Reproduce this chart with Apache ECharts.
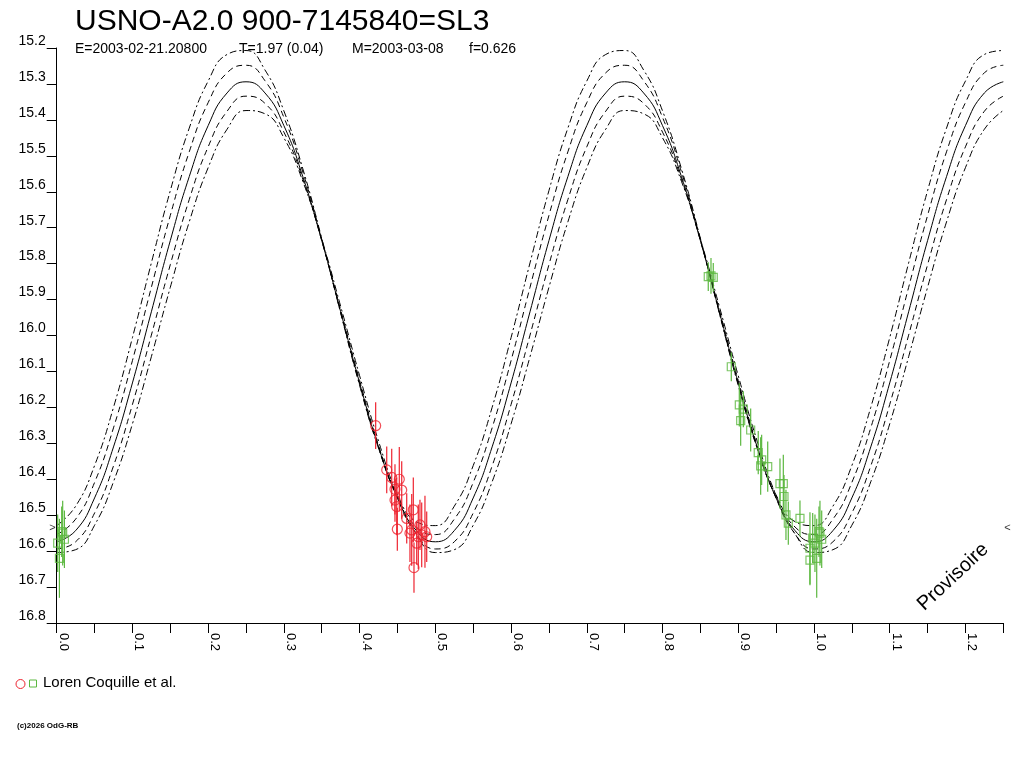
<!DOCTYPE html>
<html>
<head>
<meta charset="utf-8">
<script src="https://cdn.jsdelivr.net/npm/echarts@6/dist/echarts.min.js"></script>
<style>
html,body{margin:0;padding:0;background:#fff;}
#chart{width:1024px;height:768px;}
</style>
</head>
<body>
<div id="chart"></div>
<script>
// ---- data ----
const titleText = 'USNO-A2.0 900-7145840=SL3';
const infoTexts = ['E=2003-02-21.20800', 'T=1.97 (0.04)', 'M=2003-03-08', 'f=0.626'];
const legendText = 'Loren Coquille et al.';
const copyrightText = '(c)2026 OdG-RB';
const stampText = 'Provisoire';

const phase = [0,0.025,0.05,0.075,0.1,0.125,0.15,0.175,0.2,0.225,0.25,0.275,0.3,0.325,0.35,0.375,0.4,0.425,0.45,0.475,
  0.5,0.525,0.55,0.575,0.6,0.625,0.65,0.675,0.7,0.725,0.75,0.775,0.8,0.825,0.85,0.875,0.9,0.925,0.95,0.975,
  1.0,1.025,1.05,1.075,1.1,1.125,1.15,1.175,1.2,1.225,1.25];

// fitted curve (solid)
const curveMid = [16.574,16.543,16.452,16.310,16.132,15.934,15.736,15.558,15.416,15.325,15.294,15.325,15.416,15.558,15.736,15.934,16.132,16.310,16.452,16.543,
  16.574,16.543,16.452,16.310,16.132,15.934,15.736,15.558,15.416,15.325,15.294,15.325,15.416,15.558,15.736,15.934,16.132,16.310,16.452,16.543,
  16.574,16.543,16.452,16.310,16.132,15.934,15.736,15.558,15.416,15.325,15.294];
// inner envelope (dashed)
const curveUp1 = [16.554,16.511,16.409,16.257,16.070,15.866,15.666,15.489,15.352,15.269,15.248,15.291,15.393,15.545,15.733,15.936,16.136,16.313,16.450,16.533,
  16.554,16.511,16.409,16.257,16.070,15.866,15.666,15.489,15.352,15.269,15.248,15.291,15.393,15.545,15.733,15.936,16.136,16.313,16.450,16.533,
  16.554,16.511,16.409,16.257,16.070,15.866,15.666,15.489,15.352,15.269,15.248];
const curveLow1 = [16.594,16.574,16.494,16.363,16.192,15.999,15.803,15.622,15.475,15.376,15.334,15.354,15.434,15.565,15.736,15.929,16.125,16.306,16.453,16.552,
  16.594,16.574,16.494,16.363,16.192,15.999,15.803,15.622,15.475,15.376,15.334,15.354,15.434,15.565,15.736,15.929,16.125,16.306,16.453,16.552,
  16.594,16.574,16.494,16.363,16.192,15.999,15.803,15.622,15.475,15.376,15.334];
// outer envelope (dash-dot)
const curveUp2 = [16.529,16.475,16.362,16.200,16.006,15.798,15.597,15.423,15.292,15.218,15.207,15.261,15.375,15.536,15.730,15.938,16.139,16.313,16.444,16.518,
  16.529,16.475,16.362,16.200,16.006,15.798,15.597,15.423,15.292,15.218,15.207,15.261,15.375,15.536,15.730,15.938,16.139,16.313,16.444,16.518,
  16.529,16.475,16.362,16.200,16.006,15.798,15.597,15.423,15.292,15.218,15.207];
const curveLow2 = [16.604,16.596,16.528,16.407,16.246,16.059,15.866,15.684,15.533,15.426,15.374,15.383,15.450,15.571,15.732,15.919,16.112,16.294,16.445,16.552,
  16.604,16.596,16.528,16.407,16.246,16.059,15.866,15.684,15.533,15.426,15.374,15.383,15.450,15.571,15.732,15.919,16.112,16.294,16.445,16.552,
  16.604,16.596,16.528,16.407,16.246,16.059,15.866,15.684,15.533,15.426,15.374];

// observations, session 1 (red circles)
const redPhase = [0.4212,0.4358,0.4424,0.4524,0.4467,0.4556,0.4467,0.4490,0.4709,0.4622,0.4498,0.4688,0.4797,0.4775,0.4863,0.4886,0.4820,0.4754,0.4718,0.4665];
const redMag   = [16.251,16.374,16.395,16.400,16.428,16.430,16.458,16.476,16.485,16.509,16.539,16.541,16.527,16.560,16.546,16.560,16.555,16.578,16.646,16.550];
const redErr   = [0.065,0.065,0.08,0.09,0.07,0.08,0.06,0.08,0.09,0.07,0.06,0.10,0.07,0.09,0.10,0.07,0.09,0.06,0.07,0.08];

// observations, session 2 (green squares)
const greenPhase = [0.8604,0.8640,0.8670,0.8908,0.9014,0.9067,0.9032,0.9164,0.9264,0.9309,0.9296,0.9389,0.9551,0.9595,0.9604,0.9630,0.9661,0.9815,0.9983,1.0079,0.9947,1.0013,0.9947,1.0036,1.0102,1.0066,
  0.0013,0.0036,0.0066,0.0079,0.0102];
const greenMag   = [15.836,15.834,15.838,16.087,16.193,16.205,16.237,16.263,16.326,16.346,16.363,16.365,16.412,16.412,16.448,16.499,16.522,16.509,16.564,16.550,16.592,16.578,16.625,16.620,16.567,16.546,
  16.578,16.620,16.546,16.550,16.567];
const greenErr   = [0.04,0.05,0.04,0.04,0.06,0.05,0.07,0.06,0.06,0.07,0.08,0.07,0.07,0.08,0.06,0.07,0.06,0.05,0.07,0.09,0.10,0.08,0.07,0.11,0.08,0.07,
  0.08,0.11,0.07,0.09,0.08];

// mean-level markers (">" on left, "<" on right)
const markerPhase = [0, 1.25];
const markerMag = [16.535, 16.535];
const markerText = ['>', '<'];

// ---- build chart ----
const FONT = '"Liberation Sans", Arial, Helvetica, sans-serif';
const RED = '#ee2430';
const GREEN = '#5cb840';

function pairs(xs, ys) { return xs.map((x, i) => [x, ys[i]]); }
function triples(xs, ys, es) { return xs.map((x, i) => [x, ys[i], es[i]]); }

function lineSeries(vals, type) {
  return {
    type: 'line', data: pairs(phase, vals), smooth: true, symbol: 'none',
    lineStyle: { color: '#000', width: 1, type: type }, silent: true, z: 2
  };
}
function errSeries(data, color) {
  return {
    type: 'custom', data: data, z: 3, silent: true,
    renderItem: function (params, api) {
      const x = api.value(0), y = api.value(1), e = api.value(2);
      const p1 = api.coord([x, y - e]), p2 = api.coord([x, y + e]);
      return { type: 'line', shape: { x1: p1[0], y1: p1[1], x2: p2[0], y2: p2[1] },
               style: { stroke: color, lineWidth: 1.2 } };
    },
    clip: true
  };
}

const chart = echarts.init(document.getElementById('chart'), null, { renderer: 'canvas' });
chart.setOption({
  backgroundColor: '#fff',
  animation: false,
  grid: { left: 56.7, right: 20.7, top: 48, bottom: 145, containLabel: false },
  xAxis: {
    type: 'value', min: 0, max: 1.25, interval: 0.05,
    axisLine: { show: true, lineStyle: { color: '#000', width: 1 } },
    axisTick: { show: true, length: 10, lineStyle: { color: '#000' } },
    splitLine: { show: false },
    axisLabel: {
      rotate: -90, margin: 10, color: '#000', fontSize: 13, fontFamily: FONT,
      verticalAlign: 'bottom',
      formatter: function (v) { return (Math.round(v * 100) % 10 === 0) ? v.toFixed(1) : ''; }
    }
  },
  yAxis: {
    type: 'value', inverse: true, min: 15.2, max: 16.8, interval: 0.1,
    axisLine: { show: true, lineStyle: { color: '#000', width: 1 } },
    axisTick: { show: true, length: 10, lineStyle: { color: '#000' } },
    splitLine: { show: false },
    axisLabel: {
      margin: 11, color: '#000', fontSize: 14, fontFamily: FONT, verticalAlign: 'bottom',
      formatter: function (v) { return v.toFixed(1); }
    }
  },
  series: [
    lineSeries(curveUp2, [7, 3, 2, 3]),
    lineSeries(curveUp1, [6, 4]),
    lineSeries(curveMid, 'solid'),
    lineSeries(curveLow1, [6, 4]),
    lineSeries(curveLow2, [7, 3, 2, 3]),
    errSeries(triples(redPhase, redMag, redErr), RED),
    errSeries(triples(greenPhase, greenMag, greenErr), GREEN),
    {
      type: 'scatter', data: pairs(redPhase, redMag), symbol: 'circle', symbolSize: 10, z: 4,
      itemStyle: { color: 'rgba(0,0,0,0)', borderColor: RED, borderWidth: 1.2 }, clip: true
    },
    {
      type: 'scatter', data: pairs(greenPhase, greenMag), symbol: 'rect', symbolSize: 8, z: 4,
      itemStyle: { color: 'rgba(0,0,0,0)', borderColor: GREEN, borderWidth: 1.2 }, clip: true
    },
    {
      type: 'scatter', symbolSize: 0.1, z: 5, clip: false, silent: true,
      itemStyle: { color: 'rgba(0,0,0,0)' },
      data: markerPhase.map((p, i) => ({
        value: [p, markerMag[i]],
        label: { show: true, formatter: markerText[i], position: i === 0 ? 'left' : 'right',
                 distance: 1, fontSize: 11, color: '#000', fontFamily: FONT }
      }))
    }
  ],
  graphic: [
    { type: 'text', x: 75, y: 21.5, style: { text: titleText, font: '30px ' + FONT, fill: '#000', verticalAlign: 'middle' } },
    { type: 'text', x: 75, y: 49, style: { text: infoTexts[0], font: '14px ' + FONT, fill: '#000', verticalAlign: 'middle' } },
    { type: 'text', x: 239, y: 49, style: { text: infoTexts[1], font: '14px ' + FONT, fill: '#000', verticalAlign: 'middle' } },
    { type: 'text', x: 352, y: 49, style: { text: infoTexts[2], font: '14px ' + FONT, fill: '#000', verticalAlign: 'middle' } },
    { type: 'text', x: 469, y: 49, style: { text: infoTexts[3], font: '14px ' + FONT, fill: '#000', verticalAlign: 'middle' } },
    { type: 'text', x: 953, y: 577, rotation: 43 * Math.PI / 180,
      style: { text: stampText, font: '20px ' + FONT, fill: '#000', align: 'center', verticalAlign: 'middle' } },
    { type: 'circle', shape: { cx: 20.5, cy: 684, r: 4.5 }, style: { fill: 'none', stroke: RED, lineWidth: 1 } },
    { type: 'rect', shape: { x: 29.5, y: 680, width: 7, height: 7 }, style: { fill: 'none', stroke: GREEN, lineWidth: 1 } },
    { type: 'text', x: 43, y: 683, style: { text: legendText, font: '15px ' + FONT, fill: '#000', verticalAlign: 'middle' } },
    { type: 'text', x: 17, y: 725.5, style: { text: copyrightText, font: 'bold 8px ' + FONT, fill: '#000', verticalAlign: 'middle' } }
  ]
});
</script>
</body>
</html>
